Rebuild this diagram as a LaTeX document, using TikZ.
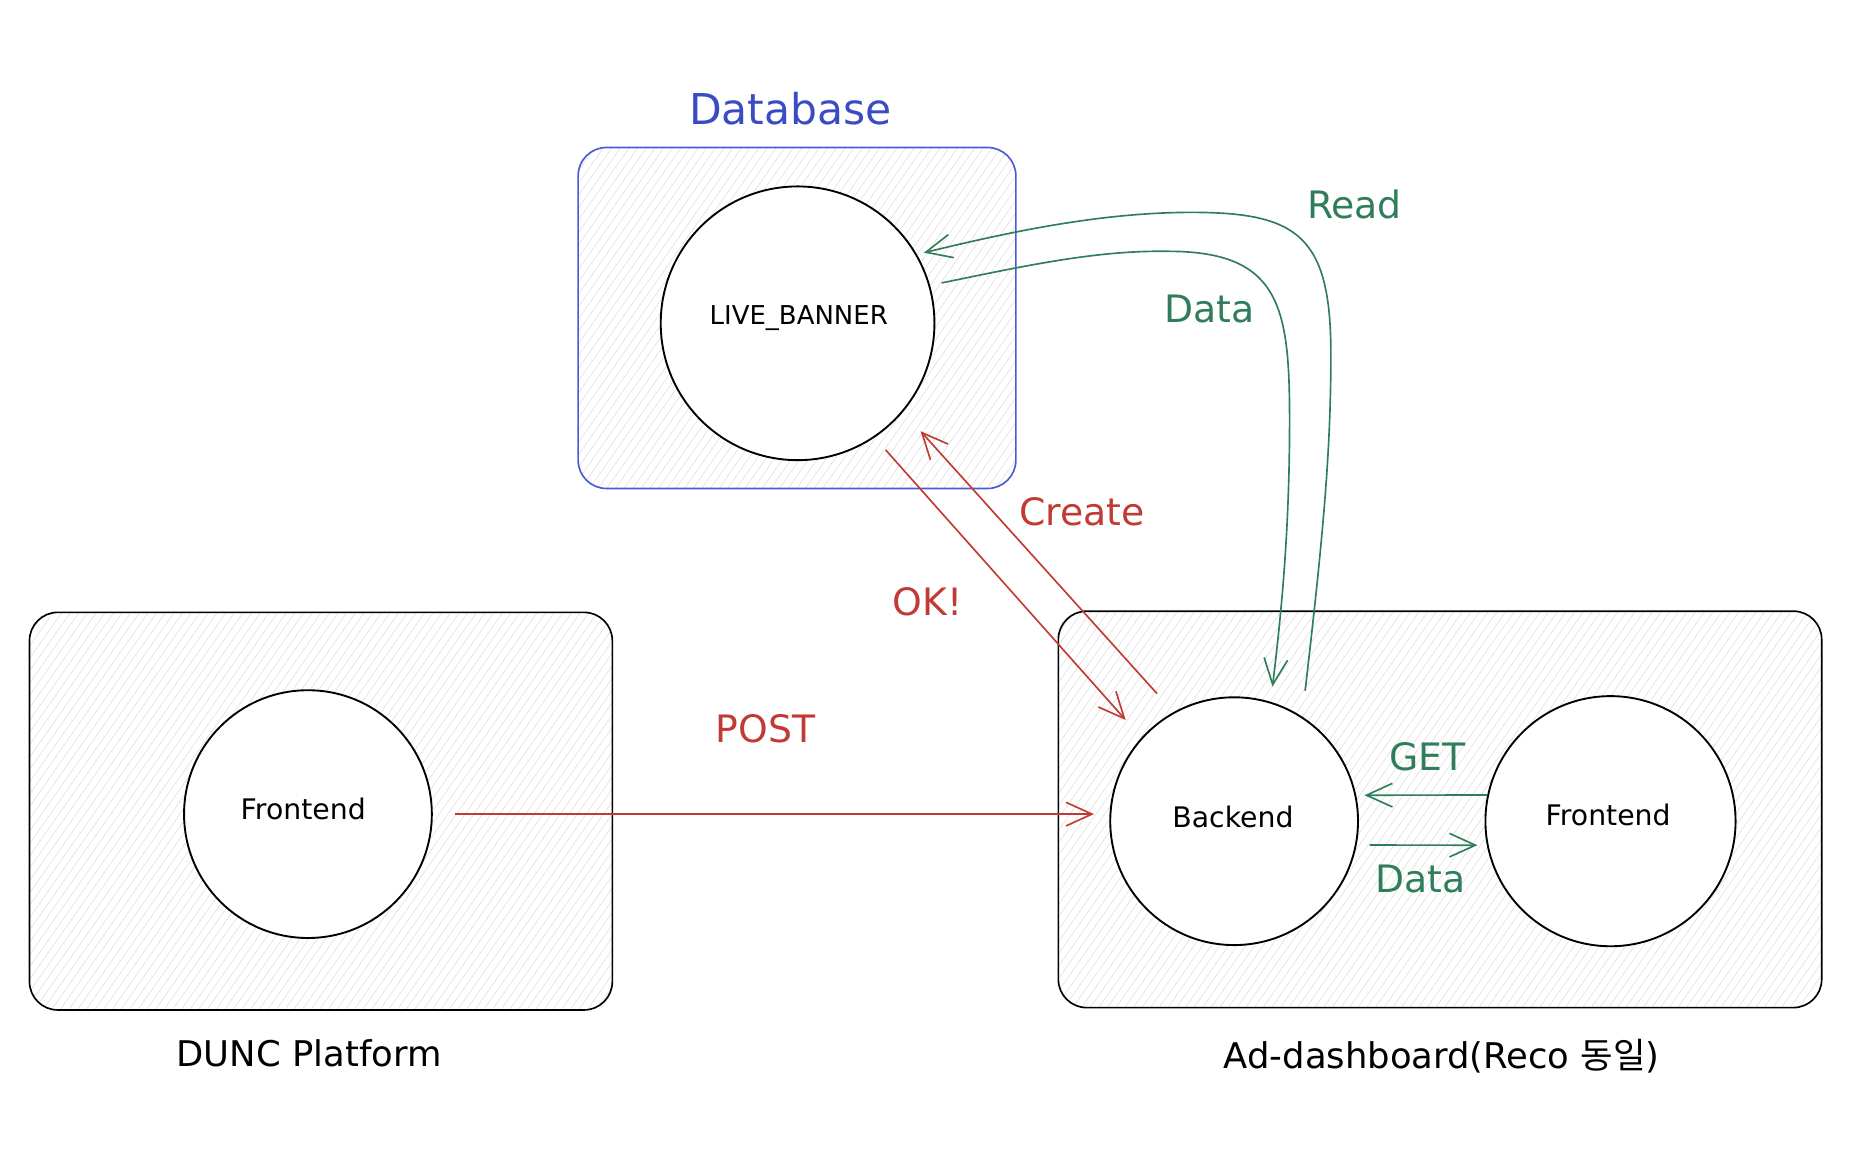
\documentclass[tikz,border=0pt]{standalone}
\usepackage{fontspec}
\setmainfont{DejaVu Sans}
\newfontfamily\krfont{Noto Sans CJK KR}
\usetikzlibrary{arrows.meta,patterns.meta}
\definecolor{dbblue}{HTML}{3B4BC4}
\definecolor{boxblue}{HTML}{4A5AD6}
\definecolor{arred}{HTML}{C23A34}
\definecolor{argreen}{HTML}{2F7D5A}
\begin{document}
\begin{tikzpicture}[x=0.5pt,y=-0.5pt,
  container/.style={draw, line width=0.7pt, rounded corners=12pt, inner sep=0pt,
    pattern={Lines[angle=55,distance=3pt,line width=0.25pt]}, pattern color=black!13},
  ball/.style={circle, draw, fill=white, line width=0.8pt, inner sep=0pt},
  lbltext/.style={font=\fontsize{16}{18}\selectfont, inner sep=0pt},
  captext/.style={font=\fontsize{15}{18}\selectfont, inner sep=0pt},
  balltext/.style={font=\fontsize{12}{14}\selectfont, inner sep=0pt},
  redarr/.style={draw=arred, line width=0.7pt, -{Straight Barb[length=11pt,width=10pt]}},
  greenarr/.style={draw=argreen, line width=0.7pt, -{Straight Barb[length=11pt,width=10pt]}}
]
\useasboundingbox (0,0) rectangle (1568,981);

% containers
\node[container, draw=boxblue, minimum width=185.5pt, minimum height=144.5pt] (dbbox) at (675.5,269.5) {};
\node[container, minimum width=247pt, minimum height=168.5pt] (leftbox) at (272,687.5) {};
\node[container, minimum width=323.5pt, minimum height=168pt] (rightbox) at (1220.5,686) {};

% circles
\node[ball, minimum size=116pt] (db) at (676,274) {};
\node[ball, minimum size=105pt] (fe1) at (261,690) {};
\node[ball, minimum size=105pt] (be) at (1046,696) {};
\node[ball, minimum size=106pt] (fe2) at (1365,696) {};

% circle texts
\node[balltext, font=\fontsize{11}{13}\selectfont] (dbtext) at (677,270) {LIVE\_BANNER};
\node[balltext] (fe1text) at (257,686) {Frontend};
\node[balltext] (betext) at (1045,692) {Backend};
\node[balltext] (fe2text) at (1363,691) {Frontend};

% titles
\node[font=\fontsize{18}{20}\selectfont, text=dbblue, inner sep=0pt] (dbtitle) at (670,92) {Database};
\node[captext] (dunc) at (262,893) {DUNC Platform};
\node[captext] (adtitle) at (1222,895) {Ad-dashboard(Reco {\krfont 동일})};

% connector labels
\node[lbltext, text=arred] (postl) at (649,618) {POST};
\node[lbltext, text=arred] (createl) at (917,434) {Create};
\node[lbltext, text=arred] (okl) at (786,510) {OK!};
\node[lbltext, text=argreen] (readl) at (1148,173) {Read};
\node[lbltext, text=argreen] (datal) at (1025,262) {Data};
\node[lbltext, text=argreen] (getl) at (1210,641) {GET};
\node[lbltext, text=argreen] (data2l) at (1204,745) {Data};

% waypoints
\coordinate (rdA) at (1128,300);
\coordinate (rdB) at (1010,180);
\coordinate (dtA) at (990,213);
\coordinate (dtB) at (1093,356);

% red connectors
\draw[redarr, shorten <=9.5pt, shorten >=6.5pt] (fe1.east) -- (fe1.east -| be.west);
\draw[redarr, shorten <=7pt, shorten >=10pt] (db.-56) -- (be.138);
\draw[redarr, shorten <=10.5pt, shorten >=11pt] (be.119) -- (db.-40);

% green connectors
\draw[greenarr, shorten <=11pt, shorten >=3pt] (be.57)
  .. controls (1122,450) and (1128,380) .. (rdA)
  .. controls (1128,200) and (1100,180) .. (rdB)
  .. controls (930,180) and (850,198) .. (db.30);
\draw[greenarr, shorten <=5pt, shorten >=6.5pt] (db.16)
  .. controls (870,225) and (930,212) .. (dtA)
  .. controls (1085,213) and (1093,260) .. (dtB)
  .. controls (1093,450) and (1086,520) .. (be.73);
\draw[greenarr, shorten >=3.5pt] (fe2.168) -- (be.12);
\draw[greenarr, shorten <=5.5pt, shorten >=4pt] (be.-11) -- (fe2.-169);
\end{tikzpicture}
\end{document}
